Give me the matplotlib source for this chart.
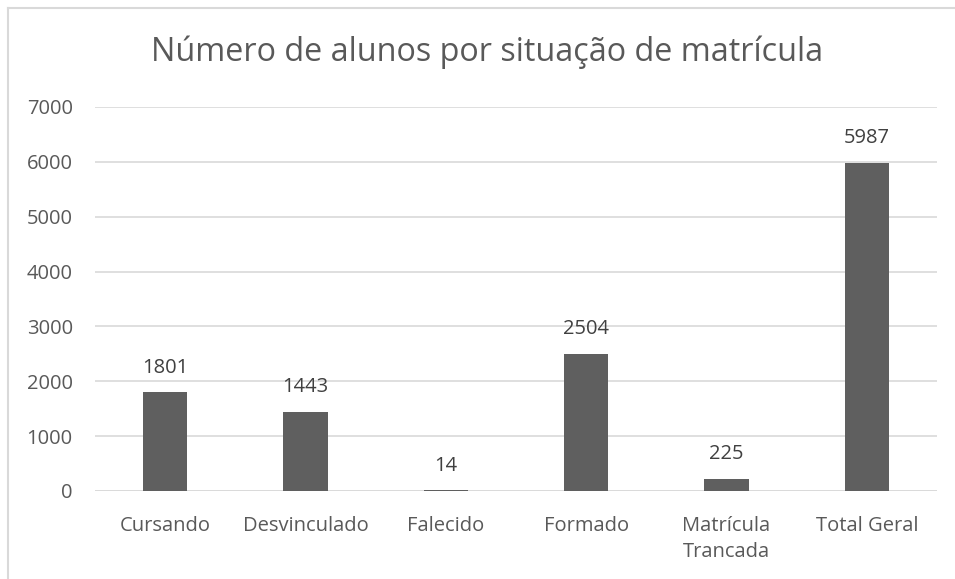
import matplotlib.pyplot as plt
from matplotlib.lines import Line2D

categorias = ['Cursando', 'Desvinculado', 'Falecido', 'Formado', 'Matrícula\nTrancada', 'Total Geral']
alunos = [1801, 1443, 14, 2504, 225, 5987]
yticks = [0, 1000, 2000, 3000, 4000, 5000, 6000, 7000]

plt.rcParams['font.family'] = ['Open Sans', 'DejaVu Sans']
texto = '#595959'

fig = plt.figure(figsize=(9.55, 5.79), dpi=100)
ax = fig.add_axes([95 / 955, 1 - 491 / 579, (937 - 95) / 955, (491 - 107) / 579])

x = range(len(categorias))
bars = ax.bar(x, alunos, width=0.315, color='#5f5f5f', zorder=3)
for b, v in zip(bars, alunos):
    ax.annotate(str(v), (b.get_x() + b.get_width() / 2, v), xytext=(0, 10.5),
                textcoords='offset points', ha='center', va='bottom',
                fontsize=14.5, color='#404040')

ax.set_xlim(-0.5, len(categorias) - 0.5)
ax.set_ylim(0, 7000)
ax.set_yticks(yticks)
ax.set_xticks(list(x))
ax.set_xticklabels(categorias, fontsize=14.5, color=texto, linespacing=1.4)
ax.tick_params(axis='y', labelsize=14.5, labelcolor=texto, length=0, pad=16)
ax.tick_params(axis='x', length=0, pad=18)
ax.yaxis.grid(True, color='#d9d9d9', linewidth=1.2, zorder=0)
for s in ax.spines.values():
    s.set_visible(False)
ax.axhline(0, color='#d9d9d9', linewidth=1.2, zorder=2)

fig.text(487.5 / 955, 1 - 52 / 579, 'Número de alunos por situação de matrícula',
         ha='center', va='center', fontsize=23.3, color=texto)

# moldura do gráfico
fig.add_artist(Line2D([8 / 955, 1], [1 - 8 / 579, 1 - 8 / 579], color='#d9d9d9', linewidth=1.5))
fig.add_artist(Line2D([8 / 955, 8 / 955], [0, 1 - 8 / 579], color='#d9d9d9', linewidth=1.5))

fig.savefig('out.png', dpi=100)
